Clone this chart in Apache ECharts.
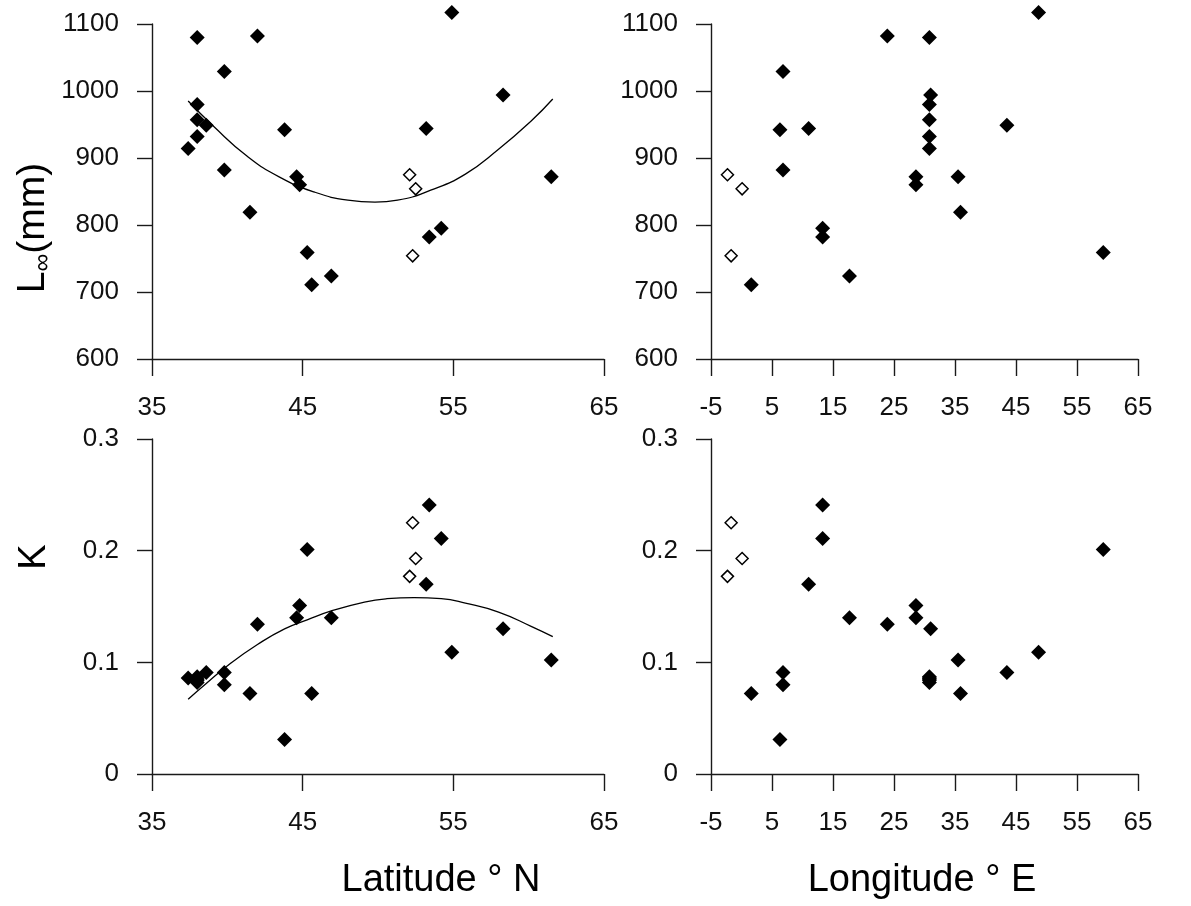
<!DOCTYPE html>
<html><head><meta charset="utf-8">
<script src="https://cdn.jsdelivr.net/npm/echarts@6/dist/echarts.min.js"></script>
<style>html,body{margin:0;padding:0;background:#fff}#c{width:1191px;height:906px}</style>
</head><body><div id="c"></div>
<script>
// ---- data ----
const latitude  = [38.0, 42.0, 39.8, 54.9, 58.3, 38.0, 38.0, 38.6, 38.0, 37.4, 43.8, 53.2, 39.8, 44.6, 44.8, 61.5, 41.5, 54.2, 53.4, 45.3, 46.9, 45.6, 52.1, 52.5, 52.3];
const longitude = [30.8, 23.9, 6.8, 48.7, 31.0, 30.8, 30.8, 43.5, 30.8, 30.8, 6.3, 11.0, 6.8, 28.6, 28.6, 35.5, 35.9, 13.3, 13.3, 59.3, 17.7, 1.6, -2.3, 0.1, -1.7];
const Linf      = [1080, 1082, 1029, 1117, 994, 980, 957, 949, 932, 914, 942, 944, 882, 872, 860, 872, 819, 795, 782, 759, 724, 711, 875, 854, 754];
const Kval      = [0.087, 0.134, 0.091, 0.109, 0.130, 0.084, 0.082, 0.091, 0.085, 0.086, 0.031, 0.170, 0.080, 0.140, 0.151, 0.102, 0.072, 0.211, 0.241, 0.201, 0.140, 0.072, 0.177, 0.193, 0.225];
const openPoint = [0,0,0,0,0,0,0,0,0,0,0,0,0,0,0,0,0,0,0,0,0,0,1,1,1];

// fitted curves
const fitLatL = [37.4, 39.1, 41.3, 43.5, 45.8, 48.0, 49.8, 51.3, 53.5, 55.8, 58.0, 60.2, 61.6];
const fitL    = [985, 947, 903, 871, 849, 837, 834, 837, 852, 876, 913, 956, 988];
const fitLatK = [37.4, 38.6, 40.2, 42.0, 43.8, 45.3, 46.9, 49.1, 50.6, 52.4, 54.2, 55.8, 58.0, 60.2, 61.6];
const fitK    = [0.067, 0.081, 0.099, 0.116, 0.130, 0.138, 0.146, 0.154, 0.157, 0.158, 0.157, 0.153, 0.145, 0.132, 0.123];

// axis ranges / ticks
const latAxis = {min: 35, max: 65, interval: 10};
const lonAxis = {min: -5, max: 65, interval: 10};
const LAxis   = {min: 600, max: 1100, interval: 100};
const KAxis   = {min: 0, max: 0.3, interval: 0.1};

// ---- chart ----
const FONT = '"Liberation Sans", Arial, sans-serif';
const AX = '#1a1a1a';
const fmt = v => String(Math.round(v * 1000) / 1000);

function pairs(xs, ys, want) {
  const out = [];
  for (let i = 0; i < xs.length; i++) if (openPoint[i] === want) out.push([xs[i], ys[i]]);
  return out;
}
function zip(xs, ys) { return xs.map((x, i) => [x, ys[i]]); }

function xAx(g, r) {
  return {type: 'value', gridIndex: g, min: r.min, max: r.max, interval: r.interval,
    axisLine: {show: true, onZero: false, lineStyle: {color: AX, width: 1.4}},
    axisTick: {show: true, inside: false, length: 17, lineStyle: {color: AX, width: 1.4}},
    axisLabel: {show: true, margin: 36, fontSize: 26, color: '#111', fontFamily: FONT, formatter: fmt, showMinLabel: true, showMaxLabel: true},
    splitLine: {show: false}};
}
function yAx(g, r) {
  return {type: 'value', gridIndex: g, min: r.min, max: r.max, interval: r.interval,
    axisLine: {show: true, onZero: false, lineStyle: {color: AX, width: 1.4}},
    axisTick: {show: true, inside: false, length: 15, lineStyle: {color: AX, width: 1.4}},
    axisLabel: {show: true, margin: 33, fontSize: 26, color: '#111', fontFamily: FONT, formatter: fmt, showMinLabel: true, showMaxLabel: true},
    splitLine: {show: false}};
}
function filled(g, data) {
  return {type: 'scatter', xAxisIndex: g, yAxisIndex: g, data, symbol: 'diamond', symbolSize: 15,
    clip: false, itemStyle: {color: '#000', opacity: 1}, silent: true, z: 3};
}
function hollow(g, data) {
  return {type: 'scatter', xAxisIndex: g, yAxisIndex: g, data, symbol: 'diamond', symbolSize: 12,
    clip: false, itemStyle: {color: '#fff', borderColor: '#000', borderWidth: 1.5, opacity: 1}, silent: true, z: 3};
}
function fit(g, data) {
  return {type: 'line', xAxisIndex: g, yAxisIndex: g, data, smooth: true, showSymbol: false,
    lineStyle: {color: '#000', width: 1.3}, silent: true, z: 4};
}

const option = {
  animation: false,
  backgroundColor: '#fff',
  grid: [
    {left: 152, top: 24, width: 452, height: 335, outerBoundsMode: 'none'},
    {left: 711, top: 24, width: 427, height: 335, outerBoundsMode: 'none'},
    {left: 152, top: 439, width: 452, height: 335, outerBoundsMode: 'none'},
    {left: 711, top: 439, width: 427, height: 335, outerBoundsMode: 'none'}
  ],
  xAxis: [xAx(0, latAxis), xAx(1, lonAxis), xAx(2, latAxis), xAx(3, lonAxis)],
  yAxis: [yAx(0, LAxis), yAx(1, LAxis), yAx(2, KAxis), yAx(3, KAxis)],
  series: [
    filled(0, pairs(latitude, Linf, 0)), hollow(0, pairs(latitude, Linf, 1)), fit(0, zip(fitLatL, fitL)),
    filled(1, pairs(longitude, Linf, 0)), hollow(1, pairs(longitude, Linf, 1)),
    filled(2, pairs(latitude, Kval, 0)), hollow(2, pairs(latitude, Kval, 1)), fit(2, zip(fitLatK, fitK)),
    filled(3, pairs(longitude, Kval, 0)), hollow(3, pairs(longitude, Kval, 1))
  ],
  graphic: [
    {type: 'text', x: 33, y: 228, rotation: Math.PI / 2,
      style: {text: '{a|L}{s|∞}{a|(mm)}', textAlign: 'center', textVerticalAlign: 'middle',
        rich: {a: {fontSize: 39, fontFamily: FONT, fill: '#000', color: '#000', lineHeight: 46},
               s: {fontSize: 25, fontFamily: FONT, fill: '#000', color: '#000', lineHeight: 46, verticalAlign: 'bottom'}}}},
    {type: 'text', x: 35, y: 557, rotation: Math.PI / 2,
      style: {text: 'K', font: '38px ' + FONT, fill: '#000', textAlign: 'center', textVerticalAlign: 'middle'}},
    {type: 'text', x: 441, y: 881,
      style: {text: 'Latitude ° N', font: '38px ' + FONT, fill: '#000', textAlign: 'center', textVerticalAlign: 'middle'}},
    {type: 'text', x: 922, y: 881,
      style: {text: 'Longitude ° E', font: '38px ' + FONT, fill: '#000', textAlign: 'center', textVerticalAlign: 'middle'}}
  ]
};
const chart = echarts.init(document.getElementById('c'));
chart.setOption(option);
</script></body></html>
